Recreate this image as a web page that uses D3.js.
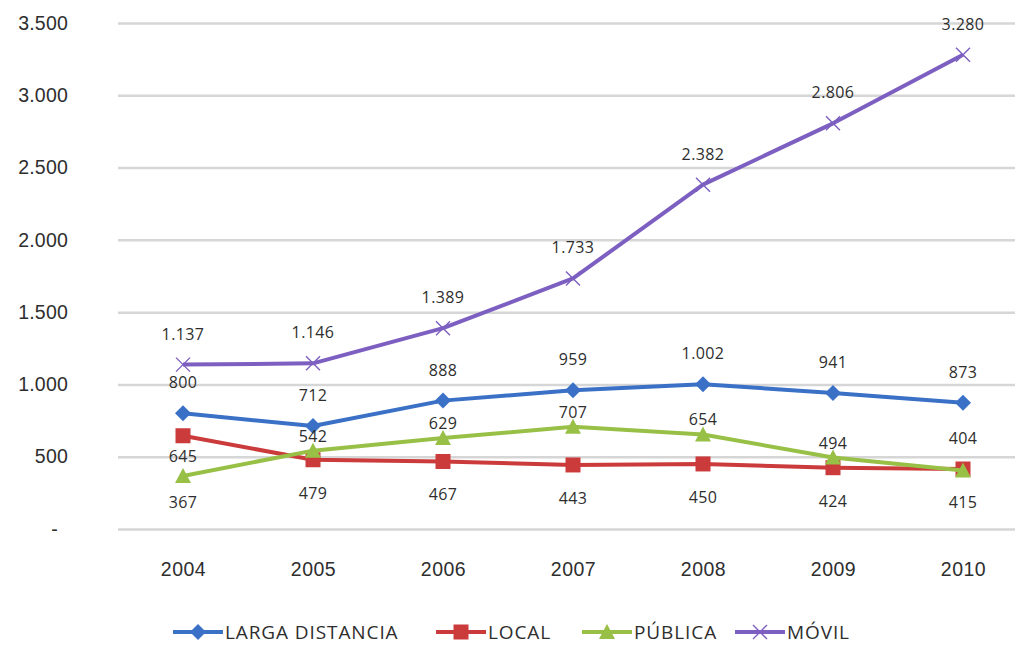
<!DOCTYPE html>
<html>
<head>
<meta charset="utf-8">
<script src="https://cdn.jsdelivr.net/npm/d3@7"></script>
<style>
  html, body { margin: 0; padding: 0; background: #fff; }
  svg { display: block; font-family: "Open Sans", sans-serif; }
</style>
</head>
<body>
<svg id="chart" width="1015" height="648"></svg>
<script>
// Annual values (2004–2010) per service type
const years = ["2004", "2005", "2006", "2007", "2008", "2009", "2010"];
const largaDistancia = [800, 712, 888, 959, 1002, 941, 873];
const local = [645, 479, 467, 443, 450, 424, 415];
const publica = [367, 542, 629, 707, 654, 494, 404];
const movil = [1137, 1146, 1389, 1733, 2382, 2806, 3280];
const seriesNames = ["LARGA DISTANCIA", "LOCAL", "PÚBLICA", "MÓVIL"];
const yTicks = [0, 500, 1000, 1500, 2000, 2500, 3000, 3500];

const plot = { left: 118, right: 1015, top: 23, bottom: 529 };

const svg = d3.select("#chart");

const locale = d3.formatLocale({ decimal: ",", thousands: ".", grouping: [3], currency: ["", ""] });
const fmt = locale.format(",d");
const fmtTick = v => v === 0 ? "-" : fmt(v);

const x = d3.scalePoint().domain(years).range([183, 963]);
const y = d3.scaleLinear().domain([0, 3500]).range([plot.bottom, plot.top]);

const textColor = "#2e2e2e";

// Horizontal gridlines + value axis
const yAxis = svg.append("g")
  .attr("transform", `translate(${plot.left},0)`)
  .call(d3.axisLeft(y).tickValues(yTicks).tickFormat(fmtTick)
    .tickSize(-(plot.right - plot.left)).tickPadding(50));
yAxis.select(".domain").remove();
yAxis.selectAll(".tick line").attr("stroke", "#d6d6d6").attr("stroke-width", 2.5);
yAxis.selectAll(".tick text")
  .attr("fill", textColor).attr("font-size", 19.5).attr("letter-spacing", 0.2)
  .attr("dx", d => d === 0 ? -10 : 0);

// Category axis
const xAxis = svg.append("g")
  .attr("transform", `translate(0,${plot.bottom})`)
  .call(d3.axisBottom(x).tickSize(0).tickPadding(33));
xAxis.select(".domain").remove();
xAxis.selectAll(".tick text").attr("fill", textColor).attr("font-size", 19.5).attr("letter-spacing", 0.5);

// Series definitions
const series = [
  { name: seriesNames[0], values: largaDistancia, color: "#3a70c6", marker: "diamond", labelDy: () => -31 },
  { name: seriesNames[1], values: local, color: "#cc3b3b", marker: "square", labelDy: (d, i) => i === 0 ? 20 : 33 },
  { name: seriesNames[2], values: publica, color: "#98c046", marker: "triangle", labelDy: (d, i) => i === 0 ? 26 : (i === 6 ? -33 : -15) },
  { name: seriesNames[3], values: movil, color: "#7c5fc0", marker: "x", labelDy: () => -31 }
];

function drawMarker(g, type, color) {
  if (type === "diamond") {
    g.append("path").attr("d", "M0,-8L8,0L0,8L-8,0Z").attr("fill", color);
  } else if (type === "square") {
    g.append("rect").attr("x", -7.5).attr("y", -7.5).attr("width", 15).attr("height", 15).attr("fill", color);
  } else if (type === "triangle") {
    g.append("path").attr("d", "M0,-8L8,7L-8,7Z").attr("fill", color);
  } else {
    g.append("path").attr("d", "M-7,-7L7,7M-7,7L7,-7")
      .attr("stroke", color).attr("stroke-width", 1.4).attr("fill", "none");
  }
}

const line = d3.line().x((d, i) => x(years[i])).y(d => y(d));

series.forEach(s => {
  const g = svg.append("g");
  g.append("path").datum(s.values)
    .attr("d", line).attr("fill", "none")
    .attr("stroke", s.color).attr("stroke-width", 4).attr("stroke-linejoin", "round");
  s.values.forEach((v, i) => {
    const m = g.append("g").attr("transform", `translate(${x(years[i])},${y(v)})`);
    drawMarker(m, s.marker, s.color);
  });
});

// Data labels
series.forEach(s => {
  svg.append("g").selectAll("text").data(s.values).join("text")
    .attr("x", (d, i) => x(years[i]))
    .attr("y", (d, i) => y(d) + s.labelDy(d, i))
    .attr("text-anchor", "middle").attr("dominant-baseline", "central")
    .attr("font-size", 16).attr("letter-spacing", 0.4).attr("fill", textColor)
    .text(d => fmt(d));
});

// Legend
const legendStarts = [173, 436, 582, 735];
const legend = svg.append("g").attr("transform", "translate(0,632)");
series.forEach((s, i) => {
  const g = legend.append("g").attr("transform", `translate(${legendStarts[i]},0)`);
  g.append("line").attr("x1", 0).attr("x2", 50).attr("y1", 0).attr("y2", 0)
    .attr("stroke", s.color).attr("stroke-width", 4);
  const m = g.append("g").attr("transform", "translate(25,0)");
  drawMarker(m, s.marker, s.color);
  g.append("text").attr("x", 52).attr("y", 0).attr("dominant-baseline", "central")
    .attr("font-size", 19).attr("letter-spacing", 0.9).attr("fill", textColor).text(s.name);
});
</script>
</body>
</html>
